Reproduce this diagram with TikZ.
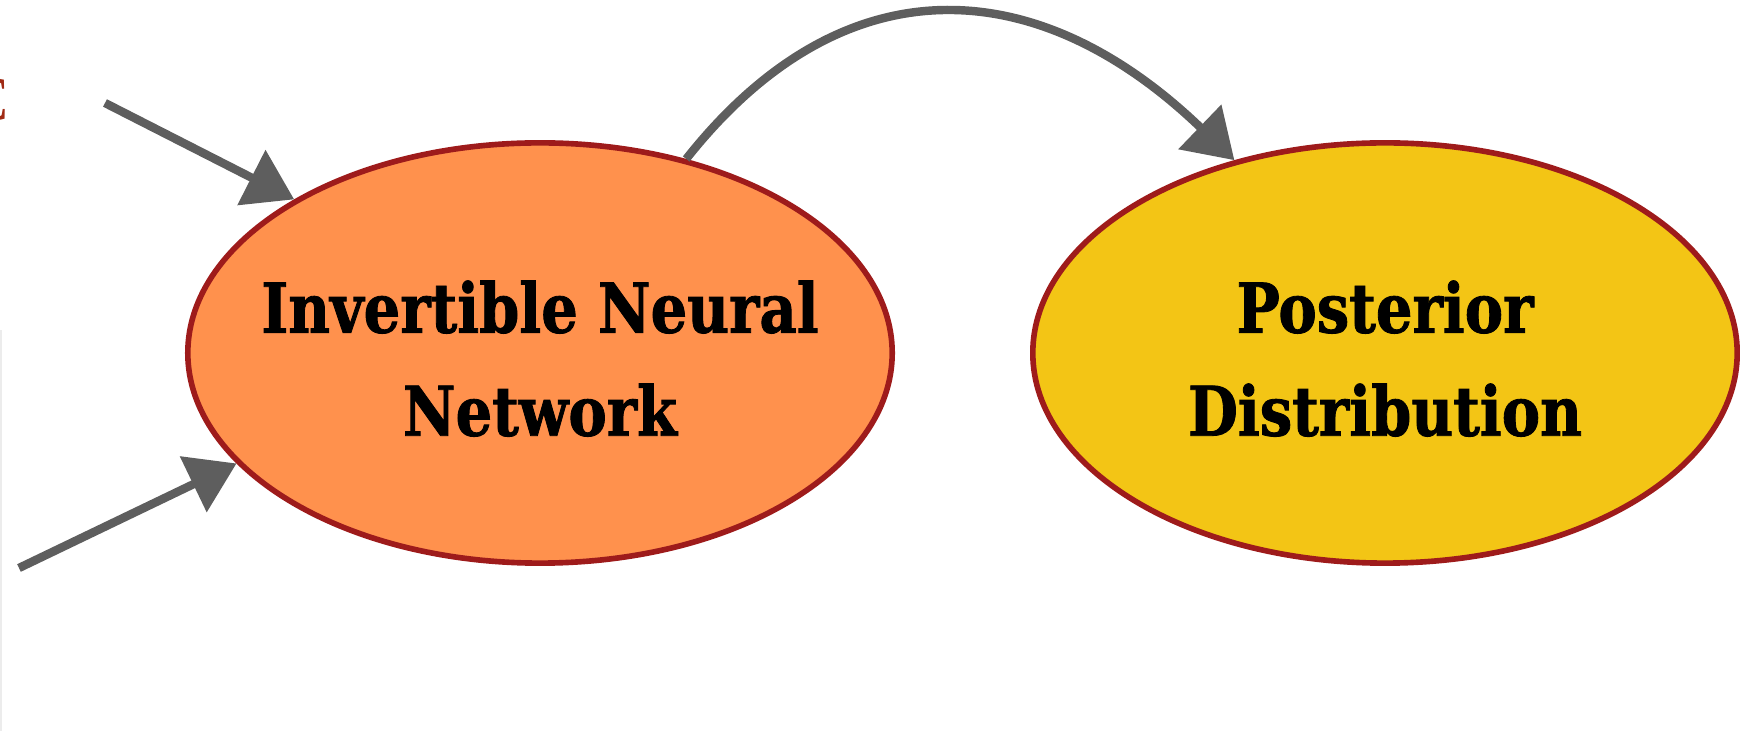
\documentclass[tikz,border=0pt]{standalone}
\usepackage{fontspec}
\setmainfont{Liberation Serif}
\newfontfamily\labelfont{DejaVu Serif}[FakeStretch=0.84,FakeBold=1.2]
\usetikzlibrary{arrows.meta,shapes.geometric}
\definecolor{inncol}{HTML}{FF914D}
\definecolor{postcol}{HTML}{F3C515}
\definecolor{rimred}{HTML}{9E1B1B}
\definecolor{arrowgray}{HTML}{5E5E5E}
\definecolor{cutred}{HTML}{A02A14}
\begin{document}
\begin{tikzpicture}[x=0.01cm,y=-0.01cm,
  blob/.style={ellipse, draw=rimred, line width=1.6pt, minimum width=7.04cm, minimum height=4.2cm,
    inner sep=0pt, inner xsep=-1.2cm, align=center, font=\labelfont\fontsize{19.5}{29.3}\selectfont\bfseries},
  flow/.style={draw=arrowgray, line width=2.4pt, -{Triangle[length=4.8mm,width=6mm]}}]
\useasboundingbox (0,0) rectangle (1740,731);
\node[blob, fill=inncol] (inn) at (540,353) {\rule{0pt}{18pt}Invertible Neural\\Network};
\node[blob, fill=postcol] (post) at (1385,353) {\rule{0pt}{18pt}Posterior\\Distribution};
\coordinate (t1) at (105,103);
\coordinate (t2) at (19,568);
\draw[flow] (t1) -- (inn.148);
\draw[flow] (t2) -- (inn.200);
\draw[flow] (inn.53) .. controls (845,-42) and (1040,-27) .. (post.128);
\node[text=cutred, inner sep=0pt, anchor=east, font=\fontsize{18}{18}\selectfont] (cut) at (9,100) {C};
\draw[gray!15, line width=0.6pt] (0.5,330) -- (0.5,731);
\end{tikzpicture}
\end{document}
